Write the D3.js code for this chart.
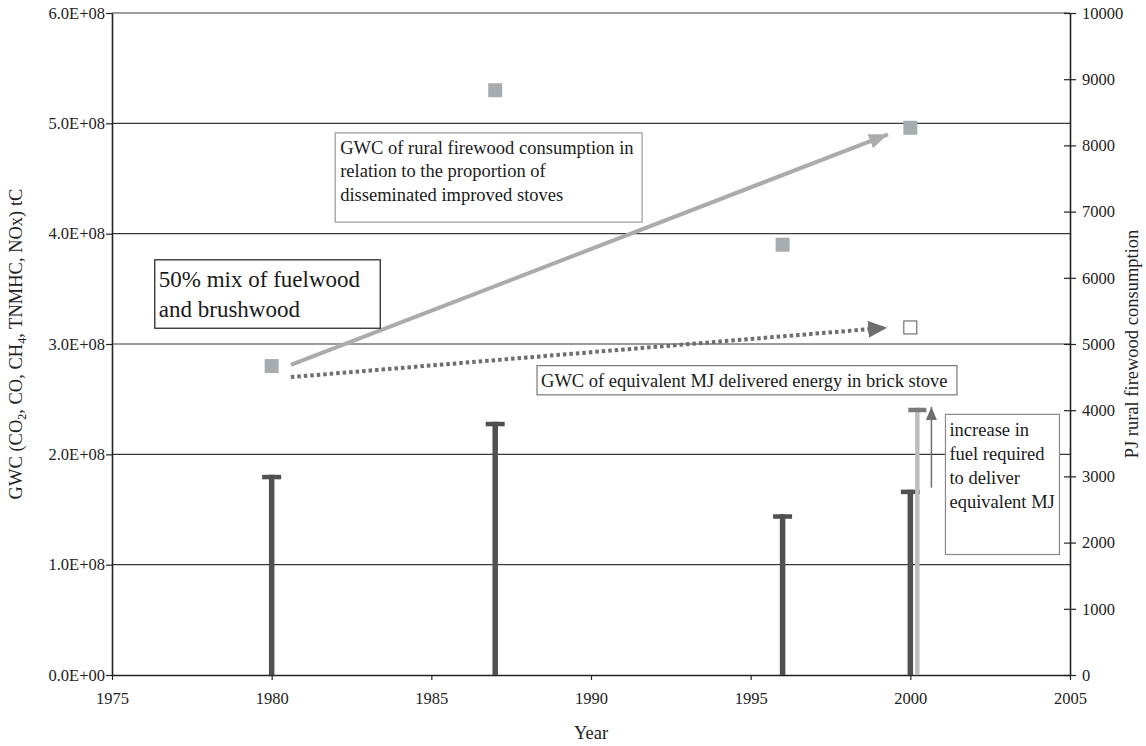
<!DOCTYPE html>
<html>
<head>
<meta charset="utf-8">
<script src="https://cdn.jsdelivr.net/npm/d3@7/dist/d3.min.js"></script>
<style>
  body { margin: 0; background: #fff; }
  svg, svg text { font-family: "Liberation Serif", "Times New Roman", serif !important; }
</style>
</head>
<body>
<div id="chart"></div>
<script>
const [width, height] = [1146, 746];

// bars: PJ rural firewood consumption (right axis)
const barYears = [1980, 1987, 1996, 2000];
const firewoodPJ = [3024, 3825, 2428, 2800];
// brick stove equivalent (light bar, 2000)
const brickYears = [2000];
const brickPJ = [4037];

// squares: GWC tC (left axis)
const gwcYears = [1980, 1987, 1996, 2000];
const gwcValues = [2.80e8, 5.30e8, 3.90e8, 4.96e8];
// hollow square: GWC in brick stove
const brickGwcYears = [2000];
const brickGwcValues = [3.15e8];

const xTicks = [1975, 1980, 1985, 1990, 1995, 2000, 2005];
const leftTicks = [0, 1e8, 2e8, 3e8, 4e8, 5e8, 6e8];
const rightTicks = [0, 1000, 2000, 3000, 4000, 5000, 6000, 7000, 8000, 9000, 10000];

const margin = {top: 13, right: 76, bottom: 71, left: 112};
const serif = '"Liberation Serif", "Times New Roman", serif';

const svg = d3.select("#chart")
  .append("svg")
  .attr("width", width)
  .attr("height", height)
  .style("font-family", serif);

const x = d3.scaleLinear().domain([1975, 2005]).range([margin.left, width - margin.right]);
const yL = d3.scaleLinear().domain([0, 6e8]).range([height - margin.bottom, margin.top]);
const yR = d3.scaleLinear().domain([0, 10000]).range([height - margin.bottom, margin.top]);

// arrow markers
const defs = svg.append("defs");
function marker(id, color, len, wid) {
  defs.append("marker")
    .attr("id", id)
    .attr("markerUnits", "userSpaceOnUse")
    .attr("markerWidth", len)
    .attr("markerHeight", wid)
    .attr("refX", len)
    .attr("refY", wid / 2)
    .attr("orient", "auto")
    .append("path")
    .attr("d", `M0,0 L${len},${wid / 2} L0,${wid} Z`)
    .attr("fill", color);
}
marker("headLight", "#ababab", 19, 15);
marker("headDark", "#6e6e6e", 19, 17);
marker("headSmall", "#6e6e6e", 13, 11);

// gridlines
svg.append("g")
  .selectAll("line")
  .data(leftTicks.slice(1))
  .enter()
  .append("line")
  .attr("x1", x(1975)).attr("x2", x(2005))
  .attr("y1", d => yL(d)).attr("y2", d => yL(d))
  .attr("stroke", "#3a3a3a")
  .attr("stroke-width", 1.2);

// axes
const fmtL = d => d === 0 ? "0.0E+00" : (d / 1e8).toFixed(1) + "E+08";

const gx = svg.append("g")
  .attr("transform", `translate(0, ${yL(0)})`)
  .call(d3.axisBottom(x).tickValues(xTicks).tickFormat(d3.format("d")).tickSize(5).tickSizeOuter(0));

const gl = svg.append("g")
  .attr("transform", `translate(${x(1975)}, 0)`)
  .call(d3.axisLeft(yL).tickValues(leftTicks).tickFormat(fmtL).tickSize(6).tickSizeOuter(0));

const gr = svg.append("g")
  .attr("transform", `translate(${x(2005)}, 0)`)
  .call(d3.axisRight(yR).tickValues(rightTicks).tickFormat(d3.format("d")).tickSize(6).tickSizeOuter(0));
gr.selectAll(".tick line").attr("x1", -6).attr("x2", 6);

[gx, gl, gr].forEach(g => {
  g.attr("font-family", serif).attr("font-size", 16.5);
  g.select(".domain").attr("stroke", "#222").attr("stroke-width", 1.6);
  g.selectAll(".tick line").attr("stroke", "#222").attr("stroke-width", 1.2);
  g.selectAll(".tick text")
    .style("font-family", serif)
    .attr("font-size", 16.5)
    .attr("fill", "#222");
});
gx.selectAll(".tick text").attr("dy", "1.25em");
gl.selectAll(".tick text").attr("x", -7);
gr.selectAll(".tick text").attr("x", 12);

// dark bars with caps
const bars = barYears.map((yr, i) => ({yr, v: firewoodPJ[i]}));
svg.append("g").selectAll("line")
  .data(bars).enter().append("line")
  .attr("x1", d => x(d.yr)).attr("x2", d => x(d.yr))
  .attr("y1", yR(0)).attr("y2", d => yR(d.v))
  .attr("stroke", "#505050").attr("stroke-width", 5.5);
svg.append("g").selectAll("rect")
  .data(bars).enter().append("rect")
  .attr("x", d => x(d.yr) - 9.5).attr("y", d => yR(d.v))
  .attr("width", 19).attr("height", 4.5)
  .attr("fill", "#505050");

// light bar (brick stove)
const brick = brickYears.map((yr, i) => ({yr, v: brickPJ[i]}));
svg.append("g").selectAll("line")
  .data(brick).enter().append("line")
  .attr("x1", d => x(d.yr) + 7).attr("x2", d => x(d.yr) + 7)
  .attr("y1", yR(0)).attr("y2", d => yR(d.v))
  .attr("stroke", "#bdbdbd").attr("stroke-width", 4.5);
svg.append("g").selectAll("rect")
  .data(brick).enter().append("rect")
  .attr("x", d => x(d.yr) + 7 - 9).attr("y", d => yR(d.v))
  .attr("width", 18).attr("height", 4.5)
  .attr("fill", "#7a7a7a");

// squares
const sq = 14;
svg.append("g").selectAll("rect")
  .data(gwcYears.map((yr, i) => ({yr, v: gwcValues[i]})))
  .enter().append("rect")
  .attr("x", d => x(d.yr) - sq / 2).attr("y", d => yL(d.v) - sq / 2)
  .attr("width", sq).attr("height", sq)
  .attr("fill", "#a9acaf");

svg.append("g").selectAll("rect")
  .data(brickGwcYears.map((yr, i) => ({yr, v: brickGwcValues[i]})))
  .enter().append("rect")
  .attr("x", d => x(d.yr) - sq / 2 + 0.5).attr("y", d => yL(d.v) - sq / 2 + 0.5)
  .attr("width", sq - 1).attr("height", sq - 1)
  .attr("fill", "#fff").attr("stroke", "#555").attr("stroke-width", 1);

// annotation arrows (data coordinates: year, left-axis value)
svg.append("line")
  .attr("x1", x(1980.6)).attr("y1", yL(2.81e8))
  .attr("x2", x(1999.3)).attr("y2", yL(4.90e8))
  .attr("stroke", "#ababab").attr("stroke-width", 4)
  .attr("marker-end", "url(#headLight)");

svg.append("line")
  .attr("x1", x(1980.6)).attr("y1", yL(2.70e8))
  .attr("x2", x(1999.27)).attr("y2", yL(3.148e8))
  .attr("stroke", "#6e6e6e").attr("stroke-width", 4)
  .attr("stroke-dasharray", "3.5,3")
  .attr("marker-end", "url(#headDark)");

svg.append("line")
  .attr("x1", x(2000.66)).attr("y1", yR(2830))
  .attr("x2", x(2000.66)).attr("y2", yR(4050))
  .attr("stroke", "#6e6e6e").attr("stroke-width", 1.5)
  .attr("marker-end", "url(#headSmall)");

// text boxes
function box(x0, x1, y0, y1, stroke, lines, size, lead, padX, firstY) {
  const g = svg.append("g");
  g.append("rect")
    .attr("x", x0).attr("y", y0)
    .attr("width", x1 - x0).attr("height", y1 - y0)
    .attr("fill", "#fff").attr("stroke", stroke).attr("stroke-width", 1.2);
  g.selectAll("text").data(lines).enter().append("text")
    .attr("x", x0 + padX)
    .attr("y", (d, i) => y0 + firstY + i * lead)
    .attr("dominant-baseline", "central")
    .style("font-family", serif)
    .attr("font-size", size)
    .attr("fill", "#1a1a1a")
    .text(d => d);
}

box(x(1981.99), x(1991.6), yL(4.913e8), yL(4.105e8), "#9a9a9a",
  ["GWC of rural firewood consumption in", "relation to the proportion of", "disseminated improved stoves"],
  18.5, 23.5, 5, 15);

box(x(1976.34), x(1983.4), yL(3.763e8), yL(3.143e8), "#1a1a1a",
  ["50% mix of fuelwood", "and brushwood"],
  23, 30, 4, 19.5);

box(x(1988.31), x(2001.46), yL(2.804e8), yL(2.539e8), "#777",
  ["GWC of equivalent MJ delivered energy in brick stove"],
  18.5, 0, 4, 15);

box(x(2001.1), x(2004.67), yR(3937), yR(1820), "#8a8a8a",
  ["increase in", "fuel required", "to deliver", "equivalent MJ"],
  18.5, 23.8, 4, 16);

// axis titles
svg.append("text")
  .attr("x", x(1990)).attr("y", 739)
  .attr("text-anchor", "middle")
  .style("font-family", serif)
  .attr("font-size", 18.5).attr("fill", "#222")
  .text("Year");

const lt = svg.append("text")
  .attr("transform", `translate(22, ${(yL(0) + yL(6e8)) / 2}) rotate(-90)`)
  .attr("text-anchor", "middle")
  .style("font-family", serif)
  .attr("font-size", 18.5).attr("fill", "#222");
lt.append("tspan").text("GWC (CO");
lt.append("tspan").attr("dy", 4).attr("font-size", 12).text("2");
lt.append("tspan").attr("dy", -4).text(", CO, CH");
lt.append("tspan").attr("dy", 4).attr("font-size", 12).text("4");
lt.append("tspan").attr("dy", -4).text(", TNMHC, NOx) tC");

svg.append("text")
  .attr("transform", `translate(1138, ${(yL(0) + yL(6e8)) / 2}) rotate(-90)`)
  .attr("text-anchor", "middle")
  .style("font-family", serif)
  .attr("font-size", 18.5).attr("fill", "#222")
  .text("PJ rural firewood consumption");
</script>
</body>
</html>
